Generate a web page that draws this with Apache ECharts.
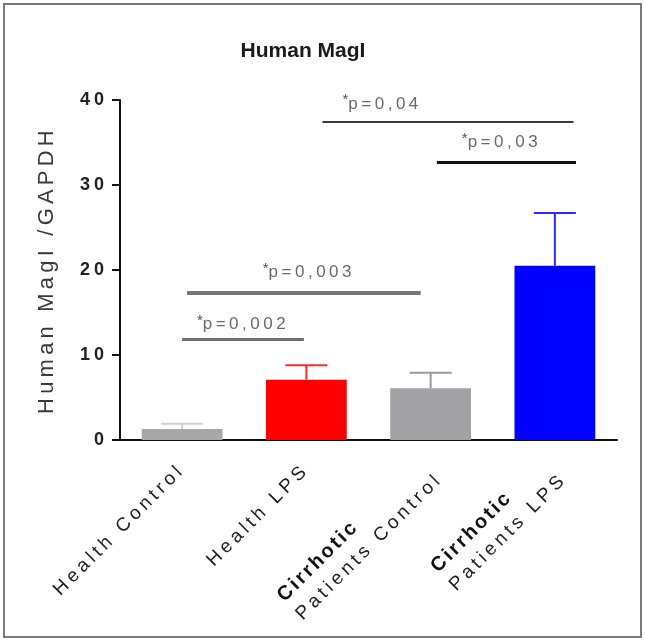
<!DOCTYPE html>
<html>
<head>
<meta charset="utf-8">
<script src="https://cdn.jsdelivr.net/npm/echarts@6/dist/echarts.min.js"></script>
<style>
  html, body { margin: 0; padding: 0; background: #fff; }
  #chart { width: 645px; height: 642px; }
</style>
</head>
<body>
<div id="chart"></div>
<script>
// data
const categories = ['Health Control', 'Health LPS', 'Cirrhotic\nPatients Control', 'Cirrhotic\nPatients LPS'];
const means = [1.3, 7.1, 6.1, 20.5];
const errors = [0.6, 1.7, 1.8, 6.2];
const barColors = ['#a7a7a7', '#ff0000', '#a2a2a6', '#0000ff'];
const errColors = ['#cfcfcf', '#ff2a2a', '#9a9a9e', '#2a2aff'];
const yTicks = [0, 10, 20, 30, 40];

// significance brackets: [xStart, xEnd, y] in category units / axis units
const sigLines = [
  [0.0, 0.98, 11.8],
  [0.04, 1.92, 17.3],
  [1.13, 3.15, 37.4],
  [2.05, 3.17, 32.7]
];
const sigLineColors = ['#6e6e6e', '#777777', '#3a3a3a', '#111111'];
const sigLineWidths = [3, 4, 2, 3];
const sigTexts = ['p=0,002', 'p=0,003', 'p=0,04', 'p=0,03'];
const sigTextPos = [[0.49, 13.6], [1.02, 19.7], [1.61, 39.5], [2.57, 35.0]];

// the figure's text is widely letter-spaced; give each font size its own spacing
const spacingBySize = { 17: '3.5px', 18: '4px', 19: '4px', 20: '2.5px', 22: '4.2px' };
const proto = CanvasRenderingContext2D.prototype;
const setSpacing = (ctx) => {
  const m = /(\d+)px/.exec(ctx.font);
  ctx.letterSpacing = (m && spacingBySize[m[1]]) || '0px';
};
const origFill = proto.fillText;
proto.fillText = function (...args) { setSpacing(this); return origFill.apply(this, args); };
const origMeasure = proto.measureText;
proto.measureText = function (...args) { setSpacing(this); return origMeasure.apply(this, args); };

const chart = echarts.init(document.getElementById('chart'));

const lineData = sigLines.map((l, i) => ({
  coords: [[l[0], l[2]], [l[1], l[2]]],
  lineStyle: { color: sigLineColors[i], width: sigLineWidths[i] }
}));

const option = {
  animation: false,
  backgroundColor: '#fff',
  title: {
    text: 'Human MagI',
    left: 298,
    top: 36,
    textAlign: 'center',
    textStyle: { fontFamily: 'Liberation Sans', fontSize: 21, fontWeight: 'bold', color: '#1a1a1a' }
  },
  graphic: [{
    type: 'rect',
    shape: { x: 4, y: 4, width: 637, height: 633 },
    style: { fill: 'none', stroke: '#7a7a7a', lineWidth: 2 },
    silent: true
  }],
  grid: { left: 120, right: 28, top: 100, bottom: 202 },
  xAxis: [{
    type: 'category',
    data: categories,
    axisLine: { lineStyle: { color: '#111', width: 2 } },
    axisTick: { alignWithLabel: true, length: 7, lineStyle: { color: '#111', width: 2 } },
    axisLabel: {
      rotate: 45,
      margin: 27,
      interval: 0,
      formatter: (v) => {
        const parts = v.split('\n');
        if (parts.length > 1) return '{b|' + parts[0] + '}\n{n|' + parts[1] + '}';
        return '{n|' + v + '}';
      },
      rich: {
        b: { fontFamily: 'Liberation Sans', fontSize: 20, fontWeight: 'bold', color: '#111', align: 'left', lineHeight: 26 },
        n: { fontFamily: 'Liberation Sans', fontSize: 19, color: '#222', align: 'left', lineHeight: 26 }
      }
    }
  }, {
    type: 'value',
    min: -0.5,
    max: 3.5,
    show: false
  }],
  yAxis: {
    type: 'value',
    min: 0,
    max: 40,
    interval: 10,
    name: 'Human MagI /GAPDH',
    nameLocation: 'middle',
    nameGap: 60,
    nameTextStyle: { fontFamily: 'Liberation Sans', fontSize: 22, color: '#3a3a3a' },
    axisLine: { show: true, onZero: false, lineStyle: { color: '#111', width: 2 } },
    axisTick: { show: true, length: 8, lineStyle: { color: '#111', width: 2 } },
    axisLabel: {
      margin: 12,
      fontFamily: 'Liberation Sans',
      fontSize: 18,
      fontWeight: 'bold',
      color: '#222',
      formatter: (v) => (yTicks.includes(v) ? String(v) : '')
    },
    splitLine: { show: false }
  },
  series: [{
    type: 'bar',
    data: means.map((v, i) => ({ value: v, itemStyle: { color: barColors[i] } })),
    barWidth: '65%',
    z: 2
  }, {
    type: 'custom',
    data: means.map((v, i) => [i, v, v + errors[i]]),
    z: 3,
    renderItem: (params, api) => {
      const i = api.value(0);
      const p0 = api.coord([i, api.value(1)]);
      const p1 = api.coord([i, api.value(2)]);
      const half = 21;
      const c = errColors[params.dataIndex];
      return {
        type: 'group',
        children: [{
          type: 'line',
          shape: { x1: p0[0], y1: p0[1], x2: p1[0], y2: p1[1] },
          style: { stroke: c, lineWidth: 2 }
        }, {
          type: 'line',
          shape: { x1: p1[0] - half, y1: p1[1], x2: p1[0] + half, y2: p1[1] },
          style: { stroke: c, lineWidth: 2 }
        }]
      };
    }
  }, {
    type: 'lines',
    coordinateSystem: 'cartesian2d',
    xAxisIndex: 1,
    polyline: false,
    symbol: 'none',
    lineStyle: { opacity: 1 },
    data: lineData,
    z: 4
  }, {
    type: 'scatter',
    xAxisIndex: 1,
    symbolSize: 0,
    data: sigTextPos.map((p, i) => ({ value: p, name: sigTexts[i] })),
    label: {
      show: true,
      position: 'inside',
      formatter: (p) => '{s|*}{t|' + p.name + '}',
      rich: {
        s: { fontFamily: 'Liberation Sans', fontSize: 15, color: '#222', padding: [0, 0, 8, 0] },
        t: { fontFamily: 'Liberation Sans', fontSize: 17, color: '#444' }
      }
    },
    z: 5
  }]
};

chart.setOption(option);
</script>
</body>
</html>
